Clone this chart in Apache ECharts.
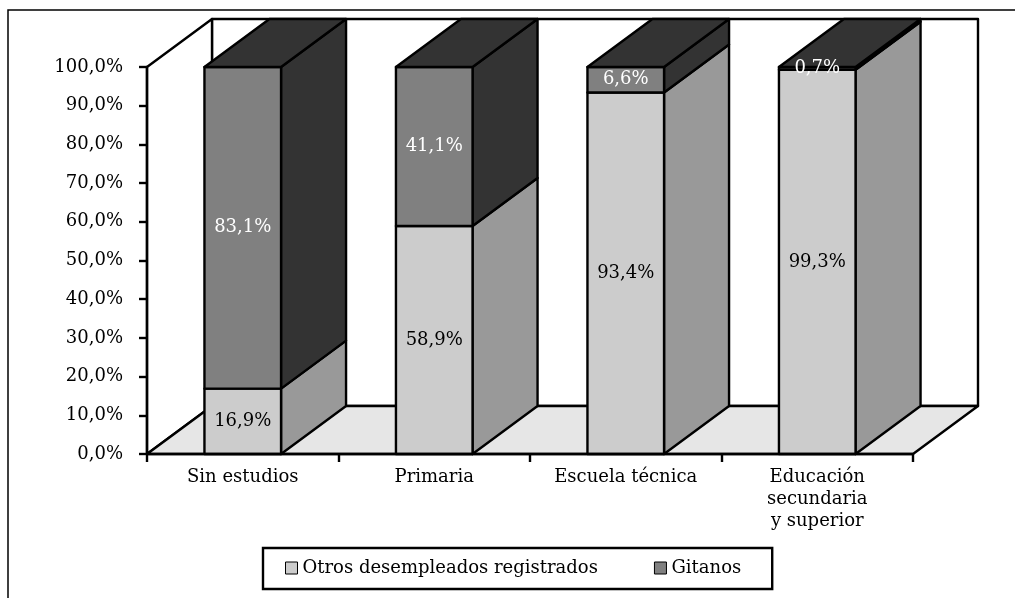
<!DOCTYPE html>
<html>
<head>
<meta charset="utf-8">
<script src="https://cdn.jsdelivr.net/npm/echarts@6/dist/echarts.min.js"></script>
<style>
  html, body { margin: 0; padding: 0; background: #fff; }
  #chart { width: 1015px; height: 598px; }
</style>
</head>
<body>
<div id="chart"></div>
<script>
  // datos
  var categories = ['Sin estudios', 'Primaria', 'Escuela técnica', 'Educación\nsecundaria\ny superior'];
  var otros = [16.9, 58.9, 93.4, 99.3];
  var gitanos = [83.1, 41.1, 6.6, 0.7];
  var seriesNames = ['Otros desempleados registrados', 'Gitanos'];

  // profundidad 3D (px)
  var DX = 65, DY = -48;
  var LW = 2.4;
  var FONT = '"DejaVu Serif", "Liberation Serif", serif';

  function pct(v) {
    return v.toFixed(1).replace('.', ',') + '%';
  }

  // caja 3D de un segmento
  function boxRenderer(values, bases, front, side, top, labelColor, isTop) {
    return function (params, api) {
      var idx = api.value(0);
      var b = bases ? bases[idx] : 0;
      var v = values[idx];
      var cx = api.coord([idx, 0])[0];
      var w = api.size([1, 0])[0] * 0.4;
      var x0 = cx - w / 2, x1 = cx + w / 2;
      var yb = api.coord([idx, b])[1];
      var yt = api.coord([idx, b + v])[1];
      var ym = api.coord([idx, b + v / 2])[1];
      var stroke = { stroke: '#000', lineWidth: LW, lineJoin: 'round' };
      var children = [
        {
          type: 'polygon',
          shape: { points: [[x1, yb], [x1, yt], [x1 + DX, yt + DY], [x1 + DX, yb + DY]] },
          style: Object.assign({ fill: side }, stroke)
        },
        {
          type: 'rect',
          shape: { x: x0, y: yt, width: w, height: yb - yt },
          style: Object.assign({ fill: front }, stroke)
        }
      ];
      if (isTop) {
        children.push({
          type: 'polygon',
          shape: { points: [[x0, yt], [x1, yt], [x1 + DX, yt + DY], [x0 + DX, yt + DY]] },
          style: Object.assign({ fill: top }, stroke)
        });
      }
      children.push({
        type: 'text',
        style: {
          x: cx, y: ym, text: pct(v),
          fill: labelColor, font: '18px ' + FONT,
          align: 'center', verticalAlign: 'middle'
        }
      });
      return { type: 'group', children: children };
    };
  }

  var chart = echarts.init(document.getElementById('chart'));
  var option = {
    animation: false,
    backgroundColor: '#fff',
    graphic: [{
      type: 'rect',
      shape: { x: 8, y: 10, width: 1100, height: 700 },
      style: { fill: 'none', stroke: '#000', lineWidth: 1.5 },
      z: -10
    }],
    grid: { left: 147, top: 67, width: 766, height: 387 },
    legend: {
      left: 263, top: 548,
      padding: [11, 31, 12, 22],
      itemGap: 56,
      itemWidth: 12, itemHeight: 12,
      icon: 'rect',
      borderColor: '#000', borderWidth: 2.4,
      textStyle: { fontFamily: FONT, fontSize: 18, color: '#000' },
      itemStyle: { borderColor: '#000', borderWidth: 1 },
      data: seriesNames
    },
    xAxis: {
      type: 'category',
      data: categories,
      z: 5,
      axisLine: { lineStyle: { color: '#000', width: LW } },
      axisTick: { show: true, length: 8, lineStyle: { color: '#000', width: LW } },
      axisLabel: {
        margin: 12, interval: 0,
        fontFamily: FONT, fontSize: 18, color: '#000', lineHeight: 22
      },
      splitLine: { show: false }
    },
    yAxis: {
      type: 'value',
      min: 0, max: 100, interval: 10,
      z: 5,
      axisLine: { show: true, lineStyle: { color: '#000', width: LW } },
      axisTick: { show: true, length: 8, lineStyle: { color: '#000', width: LW } },
      axisLabel: {
        margin: 24,
        fontFamily: FONT, fontSize: 18, color: '#000',
        formatter: function (v) { return pct(v); }
      },
      splitLine: { show: false }
    },
    series: [
      {
        // paredes y suelo
        type: 'custom',
        silent: true,
        z: 1,
        data: [[0]],
        renderItem: function (params, api) {
          var cs = params.coordSys;
          var L = cs.x, T = cs.y, R = cs.x + cs.width, B = cs.y + cs.height;
          var st = { stroke: '#000', lineWidth: LW, lineJoin: 'round' };
          return {
            type: 'group',
            children: [
              { type: 'polygon', shape: { points: [[L + DX, T + DY], [R + DX, T + DY], [R + DX, B + DY], [L + DX, B + DY]] }, style: Object.assign({ fill: '#fff' }, st) },
              { type: 'polygon', shape: { points: [[L, B], [L, T], [L + DX, T + DY], [L + DX, B + DY]] }, style: Object.assign({ fill: '#fff' }, st) },
              { type: 'polygon', shape: { points: [[L, B], [L + DX, B + DY], [R + DX, B + DY], [R, B]] }, style: Object.assign({ fill: '#e6e6e6' }, st) }
            ]
          };
        }
      },
      {
        name: seriesNames[0],
        type: 'custom',
        z: 2,
        itemStyle: { color: '#cccccc' },
        data: otros.map(function (v, i) { return [i, v]; }),
        renderItem: boxRenderer(otros, null, '#cccccc', '#999999', '#333333', '#000', false)
      },
      {
        name: seriesNames[1],
        type: 'custom',
        z: 3,
        itemStyle: { color: '#808080' },
        data: gitanos.map(function (v, i) { return [i, otros[i] + v]; }),
        renderItem: boxRenderer(gitanos, otros, '#808080', '#333333', '#333333', '#fff', true)
      }
    ]
  };
  chart.setOption(option);
</script>
</body>
</html>
